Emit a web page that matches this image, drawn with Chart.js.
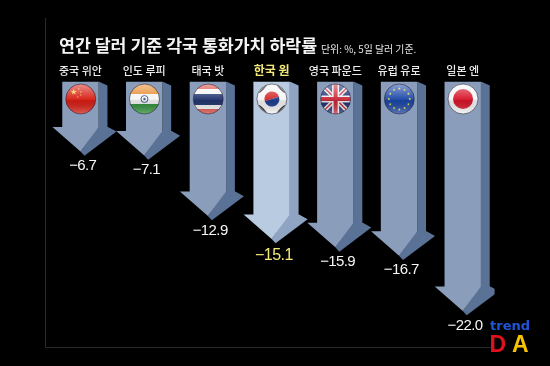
<!DOCTYPE html>
<html><head><meta charset="utf-8">
<style>html,body{margin:0;padding:0;background:#000}canvas{display:block}</style>
<script src="https://cdn.jsdelivr.net/npm/chart.js@4"></script></head>
<body><canvas id="c" width="550" height="366" style="width:550px;height:366px"></canvas>
<script>
const categories=['중국 위안','인도 루피','태국 밧','한국 원','영국 파운드','유럽 유로','일본 엔'];
const values=[-6.7,-7.1,-12.9,-15.1,-15.9,-16.7,-22.0];
const flags=['cn','in','th','kr','gb','eu','jp'];
const highlightCategory='한국 원';
const titleText='연간 달러 기준 각국 통화가치 하락률';
const noteText='단위: %, 5일 달러 기준.';
const FONT='"Noto Sans CJK KR","Noto Sans",sans-serif';

function star(ctx,x,y,r,c){ctx.fillStyle=c;ctx.beginPath();for(let i=0;i<10;i++){const a=-Math.PI/2+i*Math.PI/5,q=i%2?r*.42:r;ctx.lineTo(x+q*Math.cos(a),y+q*Math.sin(a));}ctx.closePath();ctx.fill();}
function drawFlag(ctx,kind,x,y,r){
  ctx.save();ctx.beginPath();ctx.arc(x,y,r,0,7);ctx.clip();
  const R=(a,b,w,h,c)=>{ctx.fillStyle=c;ctx.fillRect(x+a,y+b,w,h);};
  if(kind==='cn'){R(-r,-r,2*r,2*r,'#d81e14');star(ctx,x-7,y-7,3.2,'#f2d048');[[-2,-10],[0,-7],[0,-4],[-3,-2]].forEach(p=>star(ctx,x+p[0],y+p[1],1,'#f2d048'));}
  if(kind==='in'){R(-r,-r,2*r,10,'#e58a2c');R(-r,-5,2*r,10,'#f4f4f4');R(-r,5,2*r,11,'#2f8f3a');ctx.strokeStyle='#3a5a9a';ctx.lineWidth=1;ctx.beginPath();ctx.arc(x,y,3.5,0,7);ctx.stroke();ctx.fillStyle='#3a5a9a';ctx.beginPath();ctx.arc(x,y,1.2,0,7);ctx.fill();}
  if(kind==='th'){R(-r,-r,2*r,2*r,'#d9453f');R(-r,-10,2*r,20,'#f4f4f4');R(-r,-5,2*r,11,'#23356f');}
  if(kind==='kr'){R(-r,-r,2*r,2*r,'#f6f6f6');ctx.fillStyle='#d32a2a';ctx.beginPath();ctx.arc(x,y,7.5,Math.PI*.9,Math.PI*1.9);ctx.fill();ctx.fillStyle='#1d3f8f';ctx.beginPath();ctx.arc(x,y,7.5,Math.PI*1.9,Math.PI*.9);ctx.fill();
    ctx.strokeStyle='#222';ctx.lineWidth=1.1;[[-11,-8,-7,-12],[11,-8,7,-12],[-11,8,-7,12],[11,8,7,12]].forEach(l=>{for(const d of[-1.6,0,1.6]){const s=l[0]*l[1]>0?-1:1;ctx.beginPath();ctx.moveTo(x+l[0]+d,y+l[1]+d*s);ctx.lineTo(x+l[2]+d,y+l[3]+d*s);ctx.stroke();}});}
  if(kind==='gb'){R(-r,-r,2*r,2*r,'#1d2f73');const L=(a,b,c,d,w,col)=>{ctx.strokeStyle=col;ctx.lineWidth=w;ctx.beginPath();ctx.moveTo(x+a,y+b);ctx.lineTo(x+c,y+d);ctx.stroke();};
    L(-r,-r,r,r,4.5,'#eee');L(-r,r,r,-r,4.5,'#eee');L(-r,-r,r,r,1.5,'#c8283a');L(-r,r,r,-r,1.5,'#c8283a');L(0,-r,0,r,7,'#eee');L(-r,0,r,0,7,'#eee');L(0,-r,0,r,4,'#c8283a');L(-r,0,r,0,4,'#c8283a');}
  if(kind==='eu'){R(-r,-r,2*r,2*r,'#1b47a6');for(let i=0;i<12;i++){const a=i*Math.PI/6;star(ctx,x+10.5*Math.cos(a),y+10.5*Math.sin(a),1.5,'#e8d84a');}}
  if(kind==='jp'){R(-r,-r,2*r,2*r,'#f6f6f6');ctx.fillStyle='#d8152b';ctx.beginPath();ctx.arc(x,y,10,0,7);ctx.fill();}
  const g=ctx.createLinearGradient(0,y-r,0,y+r);g.addColorStop(0,'rgba(255,255,255,.5)');g.addColorStop(.5,'rgba(255,255,255,.05)');g.addColorStop(.55,'rgba(0,0,0,.08)');g.addColorStop(1,'rgba(255,255,255,.3)');ctx.fillStyle=g;ctx.fillRect(x-r,y-r,2*r,2*r);
  ctx.restore();
  ctx.strokeStyle='rgba(30,30,50,.55)';ctx.lineWidth=1;ctx.beginPath();ctx.arc(x,y,r,0,7);ctx.stroke();
}

const HI='#b9cbe0',NORMAL='#8a9dbb';
const halfShaft=18.2, depth=8.8, headL=28, headH=24.5;
Chart.BarElement.prototype.draw=function(ctx){
  const {x,y:tip,base}=this.getProps(['x','y','base']);
  const hl=this.options.backgroundColor===HI;
  const front=hl?HI:NORMAL, side=hl?'#8ea4c2':'#5a7296';
  const l=x-halfShaft, r=x+halfShaft, hy=tip-headH;
  ctx.save();
  ctx.fillStyle=side;ctx.beginPath();ctx.moveTo(r,base);ctx.lineTo(r+depth,base+4);ctx.lineTo(r+depth,hy+1);ctx.lineTo(r,hy+1);ctx.closePath();ctx.fill();
  ctx.beginPath();ctx.moveTo(r-1,hy);ctx.lineTo(r+depth+.5,hy);ctx.lineTo(x+36,hy+4.7);ctx.lineTo(x+4,tip+4.3);ctx.lineTo(x,tip);ctx.closePath();ctx.fill();
  ctx.fillStyle=front;ctx.beginPath();ctx.moveTo(l,base);ctx.lineTo(r,base);ctx.lineTo(r,hy);ctx.lineTo(x,tip);ctx.lineTo(x-headL,hy);ctx.lineTo(l,hy);ctx.closePath();ctx.fill();
  ctx.restore();
};

const deco={id:'deco',
  beforeDatasetsDraw(c){const ctx=c.ctx;ctx.save();ctx.strokeStyle='#2a2a2a';ctx.lineWidth=1;ctx.beginPath();ctx.moveTo(45.5,18);ctx.lineTo(45.5,347.5);ctx.lineTo(491.5,347.5);ctx.stroke();ctx.restore();},
  afterDatasetsDraw(c){
    const ctx=c.ctx,meta=c.getDatasetMeta(0),ys=c.scales.y;
    ctx.save();
    meta.data.forEach((el,i)=>{
      drawFlag(ctx,flags[i],el.x+.3,ys.getPixelForValue(0)+17.5,15);
      const hl=categories[i]===highlightCategory;
      ctx.fillStyle=hl?'#f4ea7a':'#f6f6f6';ctx.textAlign='center';ctx.textBaseline='middle';
      ctx.letterSpacing=hl?'-0.5px':'-0.6px';
      ctx.font=(hl?'16px ':'15px ')+'"Liberation Sans",sans-serif';
      ctx.fillText('−'+Math.abs(values[i]).toFixed(1),el.x+2.3,el.y+(hl?16.5:14.5));
    });
    ctx.letterSpacing='0px';
    ctx.textBaseline='alphabetic';ctx.textAlign='left';ctx.fillStyle='#f4f4f4';
    ctx.font='700 17.3px '+FONT;ctx.fillText(titleText,59,52);
    ctx.font='9.9px '+FONT;ctx.fillStyle='#e8e8e8';ctx.fillText(noteText,321,53);
    ctx.font='700 13px "DejaVu Sans",sans-serif';ctx.fillStyle='#1f55d8';ctx.fillText('trend',490,330);
    ctx.font='700 23px "Liberation Sans",sans-serif';ctx.fillStyle='#e0101e';ctx.fillText('D',489.5,352);
    ctx.fillStyle='#f6c400';ctx.fillText('A',512,352);
    ctx.restore();
  }
};
new Chart(document.getElementById('c'),{type:'bar',
  data:{labels:categories,datasets:[{data:values,backgroundColor:categories.map(k=>k===highlightCategory?HI:NORMAL)}]},
  options:{responsive:false,animation:false,devicePixelRatio:1,
    layout:{padding:{left:48.6,right:55.4,top:0,bottom:18.5}},
    plugins:{legend:{display:false},tooltip:{enabled:false}},
    scales:{
      x:{position:'top',afterFit(s){s.height=81.5;},grid:{display:false,drawTicks:false},border:{display:false},
        ticks:{padding:4,maxRotation:0,autoSkip:false,color:t=>categories[t.index]===highlightCategory?'#f4ea7a':'#ececec',font:t=>categories[t.index]===highlightCategory?{family:FONT,size:12,weight:'700'}:{family:FONT,size:11,weight:'500'}}},
      y:{display:false,min:-25.5,max:0,grid:{display:false}}
    }},
  plugins:[deco]});
</script></body></html>
